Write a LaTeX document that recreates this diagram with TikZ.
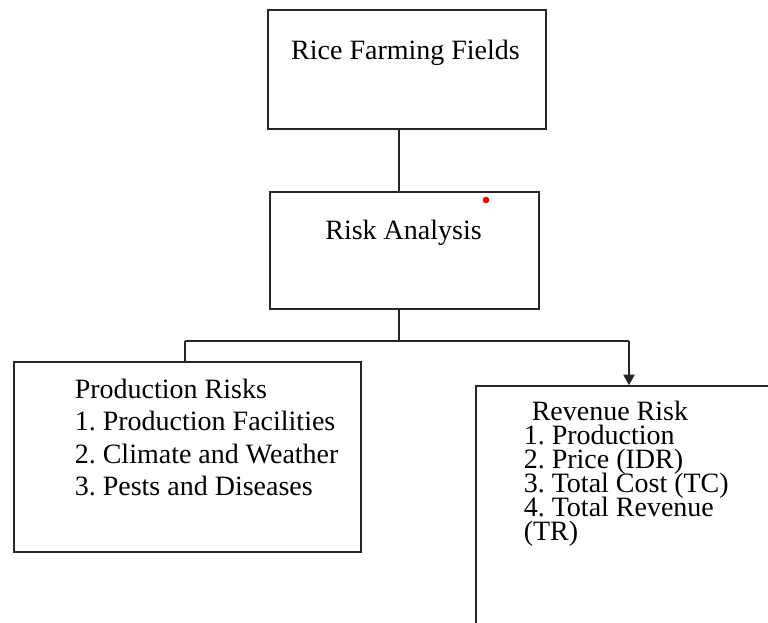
\documentclass[tikz,border=0pt]{standalone}
\usepackage{fontspec}
\setmainfont{Liberation Serif}
\usetikzlibrary{arrows.meta,positioning}

\newcommand{\tightlines}{\fontsize{21}{18.1}\selectfont\lineskiplimit=-20pt\relax}
\frenchspacing

\begin{document}
\begin{tikzpicture}[x=0.75pt,y=-0.75pt,line width=1.2pt,
    box/.style={draw=black!85,rectangle,inner sep=0pt},
    link/.style={draw=black!85},
    boxtext/.style={inner sep=0pt,font=\fontsize{21}{24.4}\selectfont}]
    \useasboundingbox (0,0) rectangle (768,623);
    \clip (0,0) rectangle (768,623);

    \node[box,minimum width=208.5pt,minimum height=89.25pt] (fields) at (407,69.5) {};
    \node[box,minimum width=201.75pt,minimum height=87.75pt] (risk) at (404.5,250.5) {};
    \node[box,minimum width=260.25pt,minimum height=142.5pt] (prod) at (187.5,457) {};
    \node[box,minimum width=243pt,minimum height=235.5pt] (rev) at (638,543) {};

    \node[boxtext,anchor=base] (fieldslabel) at (405.5,60) {Rice Farming Fields};
    \node[boxtext,anchor=base] (risklabel) at (403.5,240) {Risk Analysis};
    \node[boxtext,anchor=north west,align=left] (prodlist) at (74,378)
        {Production Risks\\1. Production Facilities\\2. Climate and Weather\\3. Pests and Diseases};
    \node[boxtext,anchor=north west,align=left,font=\tightlines] (revlist) at (523,400)
        {\hspace*{6pt}Revenue Risk\\1. Production\\2. Price (IDR)\\3. Total Cost (TC)\\4. Total Revenue\\(TR)};

    \fill[red] (486,200) circle (2.5pt);

    \coordinate (split) at (399,341);
    \coordinate (toleft) at (185,341);
    \coordinate (toright) at (629,341);
    \draw[link] (fields.south -| split) -- (risk.north -| split);
    \draw[link] (risk.south -| split) -- (split);
    \draw[link] (toleft) -- (toright);
    \draw[link] (toleft) -- (prod.north -| toleft);
    \draw[link,-{Triangle[width=8.5pt,length=8pt]}] (toright) -- (rev.north -| toright);
\end{tikzpicture}
\end{document}
